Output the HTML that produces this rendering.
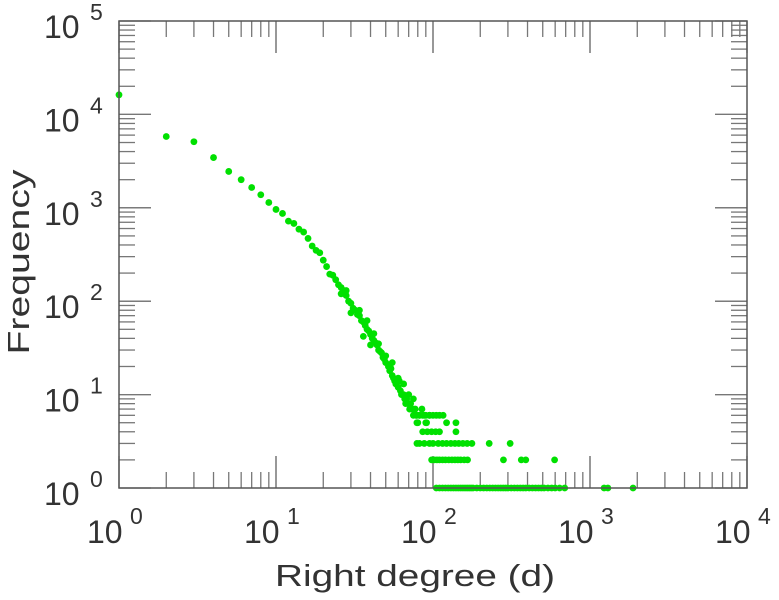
<!DOCTYPE html>
<html><head><meta charset="utf-8">
<style>
html,body{margin:0;padding:0;background:#fff;}
svg{display:block;font-family:"Liberation Sans",sans-serif;}
</style></head>
<body>
<svg id="chart" width="779" height="600">
<g id="ticks"></g>
<g id="pts"></g>
<rect x="119" y="21" width="628" height="467" fill="none" stroke="#555" stroke-width="1.5"/>
<g id="labels"></g>
<text x="415" y="586" text-anchor="middle" font-size="31" textLength="280" lengthAdjust="spacingAndGlyphs" fill="#333">Right degree (d)</text>
<text transform="translate(29,262) rotate(-90)" text-anchor="middle" font-size="31" textLength="185" lengthAdjust="spacingAndGlyphs" fill="#333">Frequency</text>
</svg>
<script>
const xTickExps = [0,1,2,3,4];
const yTickExps = [0,1,2,3,4,5];
const degrees = [1,2,3,4,5,6,7,8,9,10,11,12,13,14,15,16,17,18,19,20,21,22,23,24,25,26,27,28,29,30,31,32,33,34,35,36,37,38,39,40,41,42,43,44,45,46,47,48,49,50,52,53,54,55,56,57,58,60,61,62,63,65,66,67,68,70,71,72,74,75,77,78,80,82,85,88,90,95,
34,38,42,45,50,40,36,55,60,65,70,75,30,28,26,
79,82,86,90,95,100,105,110,116,
79,91,122,140,
86,92,98,104,110,140,
79,82,88,95,100,108,115,122,130,138,146,155,165,177,228,310,
98,102,106,110,115,120,126,132,138,144,150,158,166,281,365,390,595,
105,110,115,120,125,130,135,140,145,150,155,160,165,170,175,180,190,200,210,220,230,240,250,260,270,280,290,300,315,330,345,360,375,390,410,430,450,470,490,510,540,570,600,640,690,1230,1300,1880];
const freqs = [16200,5800,5100,3450,2450,2000,1650,1380,1140,960,870,720,680,590,550,470,390,350,330,275,235,195,190,170,150,140,130,115,100,95,84,80,72,70,62,60,55,50,48,44,40,38,36,34,30,29,28,25,24,22,20,18,19,16,15,14,13,12,14,11,10,10,9,8,9,8,7,8,7,6,7,6,5,6,7,6,5,6,
80,62,45,35,26,34,42,22,15,13,10,9,75,130,120,
6,6,6,6,6,6,6,6,6,
5,5,5,5,
4,4,4,4,4,4,
3,3,3,3,3,3,3,3,3,3,3,3,3,3,3,3,
2,2,2,2,2,2,2,2,2,2,2,2,2,2,2,2,2,
1,1,1,1,1,1,1,1,1,1,1,1,1,1,1,1,1,1,1,1,1,1,1,1,1,1,1,1,1,1,1,1,1,1,1,1,1,1,1,1,1,1,1,1,1,1,1,1];
const NS='http://www.w3.org/2000/svg';
const X0=119,X1=747,Y0=488,Y1=21;
function xs(v){return X0+Math.log10(v)/4*(X1-X0);}
function ys(v){return Y0-Math.log10(v)/5*(Y0-Y1);}
function mk(tag,attrs,parent){const e=document.createElementNS(NS,tag);for(const k in attrs)e.setAttribute(k,attrs[k]);parent.appendChild(e);return e;}
const tg=document.getElementById('ticks');
for(let d=0;d<4;d++){for(let m=1;m<=10;m++){const v=Math.pow(10,d)*m;const x=xs(v);const L=(m===1||m===10)?32:16;
const t1=mk('line',{x1:x,x2:x,y1:Y0,y2:Y0-L,stroke:'#777','stroke-width':1.3},tg);


const t2=mk('line',{x1:x,x2:x,y1:Y1,y2:Y1+L,stroke:'#777','stroke-width':1.3},tg);

}}
for(let d=0;d<5;d++){for(let m=1;m<=10;m++){const v=Math.pow(10,d)*m;const y=ys(v);const L=(m===1||m===10)?32:16;
const t1=mk('line',{x1:X0,x2:X0+L,y1:y,y2:y,stroke:'#777','stroke-width':1.3},tg);


const t2=mk('line',{x1:X1,x2:X1-L,y1:y,y2:y,stroke:'#777','stroke-width':1.3},tg);

}}
const pg=document.getElementById('pts');
for(let i=0;i<degrees.length;i++){const c=mk('circle',{cx:xs(degrees[i]),cy:ys(freqs[i]),r:3.4,fill:'#00e000'},pg);

}
const lg=document.getElementById('labels');
xTickExps.forEach(e=>{const x=xs(Math.pow(10,e));
const t=mk('text',{x:x-32,y:543,'font-size':32,fill:'#333'},lg);t.textContent='10';


const s=mk('text',{x:x+11,y:524,'font-size':23,fill:'#333'},lg);s.textContent=String(e);

});
yTickExps.forEach(e=>{const y=ys(Math.pow(10,e));
const t=mk('text',{x:44,y:y+17,'font-size':32,fill:'#333'},lg);t.textContent='10';


const s=mk('text',{x:90,y:y-1,'font-size':23,fill:'#333'},lg);s.textContent=String(e);

});
</script>
</body></html>
